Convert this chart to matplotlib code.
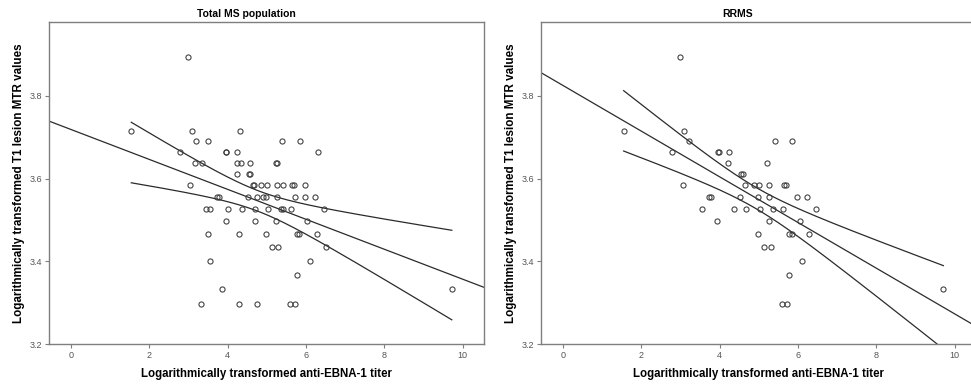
import matplotlib
matplotlib.use('Agg')
import matplotlib.pyplot as plt
import numpy as np

plt.rcParams['font.family'] = ['Liberation Sans', 'DejaVu Sans']

# data: (anti-EBNA-1 titer, MTR) in log scale
total_x = [2.99,
           1.54, 3.08, 4.32,
           3.20, 3.49, 5.39, 5.84,
           2.78, 3.95, 3.97, 4.23, 6.30,
           3.16, 3.34, 4.23, 4.35, 4.56, 5.23, 5.26,
           4.23, 4.54, 4.58,
           3.05, 4.64, 4.67, 4.86, 5.01, 5.25, 5.40, 5.65, 5.69, 5.97,
           3.72, 3.77, 4.52, 4.75, 4.91, 4.97, 5.25, 5.72, 5.97, 6.22,
           3.45, 3.56, 4.00, 4.36, 4.69, 5.03, 5.35, 5.42, 5.62, 6.46,
           3.95, 4.69, 5.24, 6.02,
           3.50, 4.28, 4.99, 5.76, 5.82, 6.27,
           5.13, 5.29, 6.52,
           3.55, 6.11,
           5.76,
           3.86, 9.72,
           3.32, 4.29, 4.74, 5.59, 5.72]
total_y = [3.894,
           3.715, 3.715, 3.715,
           3.690, 3.690, 3.690, 3.690,
           3.664, 3.664, 3.664, 3.664, 3.664,
           3.639, 3.639, 3.639, 3.639, 3.639, 3.639, 3.639,
           3.612, 3.612, 3.612,
           3.585, 3.585, 3.585, 3.585, 3.585, 3.585, 3.585, 3.585, 3.585, 3.585,
           3.556, 3.556, 3.556, 3.556, 3.556, 3.556, 3.556, 3.556, 3.556, 3.556,
           3.527, 3.527, 3.527, 3.527, 3.527, 3.527, 3.527, 3.527, 3.527, 3.527,
           3.497, 3.497, 3.497, 3.497,
           3.466, 3.466, 3.466, 3.466, 3.466, 3.466,
           3.434, 3.434, 3.434,
           3.401, 3.401,
           3.367,
           3.332, 3.332,
           3.296, 3.296, 3.296, 3.296, 3.296]

rrms_x = [2.98,
          1.55, 3.08,
          3.21, 5.40, 5.85,
          2.78, 3.96, 3.98, 4.23,
          4.22, 5.22,
          4.54, 4.59,
          3.06, 4.65, 4.88, 5.00, 5.25, 5.64, 5.70,
          3.72, 3.77, 4.52, 4.99, 5.26, 5.97, 6.22,
          3.56, 4.37, 4.68, 5.03, 5.36, 5.62, 6.47,
          3.94, 5.25, 6.04,
          4.99, 5.76, 5.84, 6.28,
          5.14, 5.31,
          6.10,
          5.77,
          9.71,
          5.60, 5.71]
rrms_y = [3.894,
          3.715, 3.715,
          3.690, 3.690, 3.690,
          3.664, 3.664, 3.664, 3.664,
          3.639, 3.639,
          3.612, 3.612,
          3.585, 3.585, 3.585, 3.585, 3.585, 3.585, 3.585,
          3.556, 3.556, 3.556, 3.556, 3.556, 3.556, 3.556,
          3.527, 3.527, 3.527, 3.527, 3.527, 3.527, 3.527,
          3.497, 3.497, 3.497,
          3.466, 3.466, 3.466, 3.466,
          3.434, 3.434,
          3.401,
          3.367,
          3.332,
          3.296, 3.296]

titles = ['Total MS population', 'RRMS']
t_crit = [1.99, 2.01]  # 95% two-sided t values for n-2 df
x_ticks = [0, 2, 4, 6, 8, 10]
y_ticks = [3.2, 3.4, 3.6, 3.8]
xlab = 'Logarithmically transformed anti-EBNA-1 titer'
ylab = 'Logarithmically transformed T1 lesion MTR values'

fig = plt.figure(figsize=(9.71, 3.86), dpi=100)
grey = '#7f7f7f'
line_c = '#2b2b2b'

panels = [(total_x, total_y), (rrms_x, rrms_y)]
lefts = [49 / 971, 541 / 971]
title_x = [246 / 971, 737.5 / 971]

for i, (xs, ys) in enumerate(panels):
    ax = fig.add_axes([lefts[i], 1 - 344 / 386, 435.3 / 971, 322 / 386])
    xs = np.array(xs)
    ys = np.array(ys)
    ax.plot(xs, ys, 'o', ms=3.7, mfc='none', mec='#3a3a3a', mew=0.75, zorder=3)

    # linear fit with 95% CI for the mean
    b, a = np.polyfit(xs, ys, 1)
    n = len(xs)
    resid = ys - (a + b * xs)
    s = np.sqrt(np.sum(resid ** 2) / (n - 2))
    sxx = np.sum((xs - xs.mean()) ** 2)
    xl = np.array([-0.56, 10.55])
    ax.plot(xl, a + b * xl, color=line_c, lw=0.9)
    xg = np.linspace(xs.min(), xs.max(), 200)
    hw = t_crit[i] * s * np.sqrt(1 / n + (xg - xs.mean()) ** 2 / sxx)
    ax.plot(xg, a + b * xg + hw, color=line_c, lw=0.9)
    ax.plot(xg, a + b * xg - hw, color=line_c, lw=0.9)

    ax.set_xlim(-0.56, 10.55)
    ax.set_ylim(3.2, 3.979)
    ax.set_xticks(x_ticks)
    ax.set_yticks(y_ticks)
    ax.set_yticklabels([f'{v:.1f}' for v in y_ticks])
    ax.tick_params(direction='out', length=3, width=0.8, color=grey,
                   labelsize=6.5, labelcolor='#555555', pad=2)
    for sp in ax.spines.values():
        sp.set_color(grey)
        sp.set_linewidth(1.0)

    ax.set_xlabel(xlab, fontsize=8.3, fontweight='bold')
    ax.set_ylabel(ylab, fontsize=8.4, fontweight='bold')
    ax.xaxis.set_label_coords(0.5, -0.075)
    ax.yaxis.set_label_coords(-0.055, 0.5)

    fig.text(title_x[i], 1 - 14 / 386, titles[i], ha='center', va='center',
             fontsize=7.5, fontweight='bold')

fig.savefig('out.png', dpi=100)
